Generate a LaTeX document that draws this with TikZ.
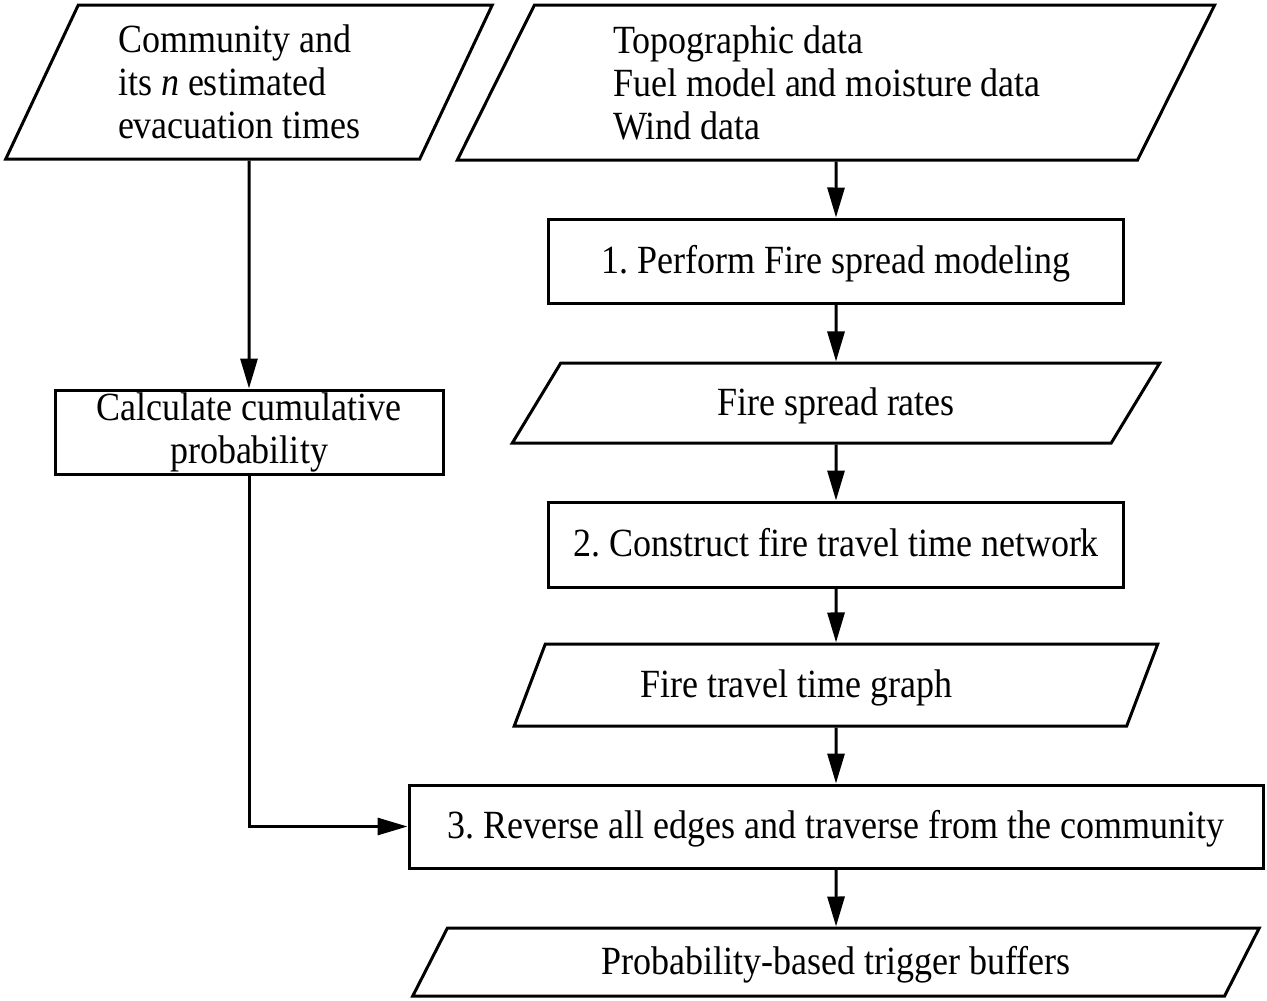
\documentclass[tikz,border=0pt]{standalone}
\usepackage{fontspec}
\setmainfont{Liberation Serif}[FakeStretch=0.9]
\usetikzlibrary{shapes.geometric,arrows.meta}
\begin{document}
\frenchspacing
\begin{tikzpicture}[x=1pt,y=-1pt,
  every node/.style={font=\fontsize{40}{43}\selectfont, inner sep=0pt},
  oneline/.style={text height=33pt, text depth=9pt},
  stepbox/.style={draw, rectangle, line width=3pt},
  iobox/.style={draw, trapezium, trapezium left angle=63.5, trapezium right angle=116.5, trapezium stretches=true, line width=3pt},
  flow/.style={line width=3pt, -{Triangle[length=30pt,width=17pt]}}
]
\useasboundingbox[fill=white] (0,0) rectangle (1267,1001);

\node[iobox, trapezium left angle=64, trapezium right angle=116, minimum width=488pt, minimum height=154pt, text width=262pt, align=flush left] (comm) at (249,82) {Community and\\its \textit{n} estimated\\evacuation times};
\node[iobox, minimum width=764pt, minimum height=155pt, text width=446pt, align=flush left] (data) at (836,82.5) {Topographic data\\Fuel model and moisture data\\Wind data};
\node[stepbox, oneline, minimum width=575pt, minimum height=84pt] (s1) at (836,261) {1. Perform Fire spread modeling};
\node[iobox, oneline, minimum width=648pt, minimum height=80pt] (rates) at (836,403) {Fire spread rates};
\node[stepbox, oneline, minimum width=575pt, minimum height=85pt] (s2) at (836,544.5) {2. Construct fire travel time network};
\node[iobox, oneline, minimum width=648pt, minimum height=82pt, text width=392pt, align=flush left] (graph) at (836,685) {Fire travel time graph};
\node[stepbox, oneline, minimum width=854pt, minimum height=83pt] (s3) at (836,826.5) {3. Reverse all edges and traverse from the community};
\node[iobox, oneline, minimum width=848pt, minimum height=68pt] (buf) at (836,962) {Probability-based trigger buffers};
\node[stepbox, minimum width=388pt, minimum height=84pt, align=center] (calc) at (249,432) {Calculate cumulative\\probability};

\draw[flow] (data.south) -- (s1.north);
\draw[flow] (s1.south) -- (rates.north);
\draw[flow] (rates.south) -- (s2.north);
\draw[flow] (s2.south) -- (graph.north);
\draw[flow] (graph.south) -- (s3.north);
\draw[flow] (s3.south) -- (buf.north);
\draw[flow] (comm.south) -- (calc.north);
\draw[flow] (calc.south) |- (s3.west);
\end{tikzpicture}
\end{document}
